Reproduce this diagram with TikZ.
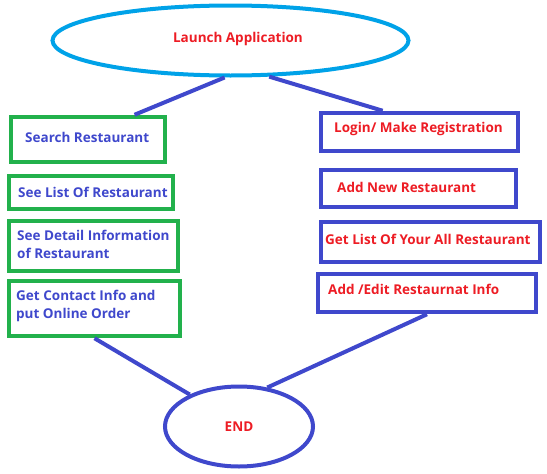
\documentclass[tikz,border=0pt]{standalone}
\usepackage{fontspec}
\setmainfont{Open Sans}
\usepackage{tikz}
\usetikzlibrary{shapes.geometric}
\definecolor{appred}{RGB}{237,28,36}
\definecolor{appblue}{RGB}{63,72,204}
\definecolor{appgreen}{RGB}{34,177,76}
\definecolor{appcyan}{RGB}{0,162,232}
\newcommand{\stepfont}{\bfseries\fontsize{13.5}{18.5}\selectfont}

\begin{document}
\begin{tikzpicture}[x=1pt, y=-1pt,
  userbox/.style={shape=rectangle, draw=appgreen, line width=4.5pt, inner sep=0pt},
  ownerbox/.style={shape=rectangle, draw=appblue, line width=4.5pt, inner sep=0pt},
  usertext/.style={anchor=west, text=appblue, font=\stepfont, align=left, inner sep=0pt},
  ownertext/.style={anchor=west, text=appred, font=\stepfont, inner sep=0pt},
  link/.style={draw=appblue, line width=4pt}]
\useasboundingbox (0,0) rectangle (547,474);
\node[shape=ellipse, draw=appcyan, line width=4pt, minimum width=356, minimum height=70, inner sep=0pt](launch) at (230.5,40.5) {};
\node[text=appred, font=\stepfont, inner sep=0pt](launchtext) at (238,39) {Launch Application};
\node[shape=ellipse, draw=appblue, line width=4pt, minimum width=148, minimum height=80, inner sep=0pt, text=appred, font=\stepfont](finish) at (239,426.5) {END};
% user side
\node[userbox, minimum width=154, minimum height=45](search) at (88,139.5) {};
\node[userbox, minimum width=164, minimum height=33](list) at (91,192.5) {};
\node[userbox, minimum width=169, minimum height=50](detail) at (93.5,246) {};
\node[userbox, minimum width=171, minimum height=55](contact) at (94.5,308.5) {};
\node[usertext](searchtext) at (25,137) {Search Restaurant};
\node[usertext](listtext) at (18,192) {See List Of Restaurant};
\node[usertext](detailtext) at (17,244.5) {See Detail Information\\of Restaurant};
\node[usertext](contacttext) at (16,306) {Get Contact Info and\\put Online Order};
% owner side
\node[ownerbox, minimum width=197, minimum height=38](login) at (419.5,132) {};
\node[ownerbox, minimum width=195, minimum height=37](addnew) at (418.5,188.5) {};
\node[ownerbox, minimum width=219, minimum height=40](mylist) at (430.5,242) {};
\node[ownerbox, minimum width=218, minimum height=38](edit) at (427,293) {};
\node[ownertext](logintext) at (334,129) {Login/ Make Registration};
\node[ownertext](addnewtext) at (337,187) {Add New Restaurant};
\node[ownertext](mylisttext) at (325,239) {Get List Of Your All Restaurant};
\node[ownertext](edittext) at (328,289) {Add /Edit Restaurnat Info};
\path[link] (launch.261) -- (search.28);
\path[link] (launch.317) -- (login.150);
\path[link] (contact.south) -- (finish.147);
\path[link] (edit.south) -- (finish.54);
\end{tikzpicture}
\end{document}
